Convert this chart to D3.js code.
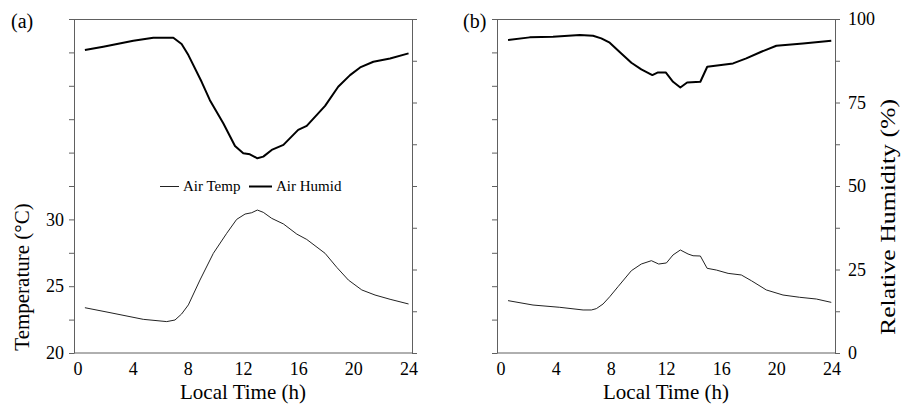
<!DOCTYPE html>
<html>
<head>
<meta charset="utf-8">
<script src="https://cdn.jsdelivr.net/npm/d3@7"></script>
<style>
body { margin: 0; background: #fff; }
svg { display: block; }
.axis path, .axis line { stroke: #606060; }
.axis text { font-size: 18px; fill: #000; }
</style>
</head>
<body>
<svg id="chart"></svg>
<script>
// values (hour of day, value)
const hoursTempA = [0.54, 2.36, 4.77, 6.47, 7.07, 7.55, 8.04, 8.88, 9.85, 10.82, 11.54, 12.15, 12.63, 13.04, 13.47, 14.08, 14.93, 15.9, 16.62, 17.95, 18.8, 19.64, 20.61, 21.57, 22.66, 24.0];
const tempA = [23.39, 23.02, 22.52, 22.35, 22.47, 22.92, 23.6, 25.46, 27.46, 28.96, 30.0, 30.4, 30.5, 30.7, 30.53, 30.08, 29.66, 28.9, 28.5, 27.46, 26.41, 25.46, 24.72, 24.34, 24.02, 23.67];

const hoursHumA = [0.54, 1.87, 4.05, 5.5, 6.95, 7.55, 8.04, 9.0, 9.6, 10.57, 11.42, 12.02, 12.5, 13.04, 13.47, 14.08, 14.93, 16.0, 16.62, 17.95, 18.9, 19.76, 20.49, 21.45, 22.66, 24.0];
const humA = [90.7, 91.7, 93.5, 94.4, 94.4, 92.5, 89.2, 81.2, 75.7, 68.8, 62.0, 59.8, 59.5, 58.3, 58.8, 60.8, 62.3, 66.8, 68.0, 74.0, 79.7, 83.2, 85.5, 87.2, 88.2, 89.7];

const hoursTempB = [0.55, 2.36, 4.3, 5.99, 6.59, 6.95, 7.44, 7.92, 8.52, 9.49, 10.21, 10.94, 11.47, 12.03, 12.51, 13.04, 13.6, 13.96, 14.49, 14.98, 15.65, 16.5, 17.46, 18.19, 19.27, 20.48, 21.69, 22.9, 23.98];
const tempB = [23.92, 23.59, 23.42, 23.22, 23.22, 23.32, 23.67, 24.21, 24.96, 26.16, 26.66, 26.91, 26.66, 26.74, 27.34, 27.71, 27.41, 27.28, 27.26, 26.34, 26.21, 25.96, 25.84, 25.41, 24.72, 24.34, 24.17, 24.04, 23.79];

const hoursHumB = [0.55, 2.12, 3.81, 5.75, 6.71, 7.31, 7.92, 8.76, 9.49, 10.21, 11.01, 11.42, 11.98, 12.51, 13.04, 13.53, 14.49, 14.99, 16.86, 17.82, 18.91, 20.0, 21.93, 23.98];
const humB = [93.7, 94.5, 94.7, 95.2, 95.0, 94.2, 92.9, 89.7, 86.9, 84.9, 83.2, 84.0, 84.0, 81.2, 79.5, 81.0, 81.2, 85.7, 86.7, 88.2, 90.2, 92.0, 92.7, 93.5];

const xTicks = [0, 4, 8, 12, 16, 20, 24];
const tempTicks = d3.range(20, 45.01, 2.5);
const tempLabels = [20, 25, 30];
const humTicks = d3.range(0, 100.01, 12.5);
const humLabels = [0, 25, 50, 75, 100];

const FONT = '"Liberation Serif", "Times New Roman", Times, serif';
const W = 901, H = 406;
const svg = d3.select('#chart').attr('width', W).attr('height', H);

function drawPanel(cfg) {
    const g = svg.append('g');
    const top = 19, bottom = 353;
    const xscale = d3.scaleLinear().domain([-0.25, 24.25]).range([cfg.left, cfg.right]);
    const tscale = d3.scaleLinear().domain([20, 45]).range([bottom, top]);
    const hscale = d3.scaleLinear().domain([0, 100]).range([bottom, top]);

    // x axis: labels only, no tick marks
    g.append('g').attr('class', 'axis')
        .attr('transform', `translate(0, ${bottom})`)
        .call(d3.axisBottom(xscale).tickValues(xTicks).tickSize(0).tickPadding(9).tickSizeOuter(0))
        .call(a => a.select('.domain').attr('d', `M${cfg.left},0H${cfg.right}`));

    const yl = d3.axisLeft(tscale).tickValues(tempTicks).tickSize(5).tickPadding(5).tickSizeOuter(0)
        .tickFormat(d => cfg.leftLabels && tempLabels.includes(d) ? d : '');
    g.append('g').attr('class', 'axis')
        .attr('transform', `translate(${cfg.left}, 0)`)
        .call(yl);

    const yr = d3.axisRight(hscale).tickValues(humTicks).tickSize(5).tickPadding(8).tickSizeOuter(0)
        .tickFormat(d => cfg.rightLabels && humLabels.includes(d) ? d : '');
    g.append('g').attr('class', 'axis')
        .attr('transform', `translate(${cfg.right}, 0)`)
        .call(yr);

    // top frame line
    g.append('line')
        .attr('x1', cfg.left).attr('x2', cfg.right)
        .attr('y1', top + 0.5).attr('y2', top + 0.5)
        .attr('stroke', '#606060');

    const tempLine = d3.line()
        .x((d, i) => xscale(cfg.tHours[i]))
        .y(d => tscale(d));
    const humLine = d3.line()
        .x((d, i) => xscale(cfg.hHours[i]))
        .y(d => hscale(d));

    g.append('path').datum(cfg.temp)
        .attr('d', tempLine)
        .attr('fill', 'none').attr('stroke', '#222').attr('stroke-width', 1);
    g.append('path').datum(cfg.hum)
        .attr('d', humLine)
        .attr('fill', 'none').attr('stroke', '#000').attr('stroke-width', 2)
        .attr('stroke-linejoin', 'round');

    g.append('text')
        .attr('x', cfg.labelX).attr('y', 28)
        .style('font-size', '20px')
        .text(cfg.label);

    g.append('text')
        .attr('x', (cfg.left + cfg.right) / 2).attr('y', 399)
        .attr('text-anchor', 'middle')
        .style('font-size', '21px')
        .text('Local Time (h)');
}

drawPanel({left: 74, right: 412, tHours: hoursTempA, temp: tempA, hHours: hoursHumA, hum: humA,
    leftLabels: true, rightLabels: false, label: '(a)', labelX: 11});
drawPanel({left: 497, right: 835, tHours: hoursTempB, temp: tempB, hHours: hoursHumB, hum: humB,
    leftLabels: false, rightLabels: true, label: '(b)', labelX: 463});

// y axis titles
svg.append('text')
    .attr('transform', 'translate(29, 277) rotate(-90)')
    .attr('text-anchor', 'middle')
    .style('font-size', '21px')
    .text('Temperature (°C)');
svg.append('text')
    .attr('transform', 'translate(895, 217) rotate(-90)')
    .attr('text-anchor', 'middle')
    .attr('textLength', 236)
    .attr('lengthAdjust', 'spacingAndGlyphs')
    .style('font-size', '21px')
    .text('Relative Humidity (%)');

// legend
const legend = svg.append('g').style('font-size', '15px');
legend.append('line').attr('x1', 160).attr('x2', 179).attr('y1', 186.5).attr('y2', 186.5)
    .attr('stroke', '#222').attr('stroke-width', 1);
legend.append('text').attr('x', 183).attr('y', 191).text('Air Temp');
legend.append('line').attr('x1', 249).attr('x2', 272).attr('y1', 186.5).attr('y2', 186.5)
    .attr('stroke', '#000').attr('stroke-width', 2);
legend.append('text').attr('x', 276).attr('y', 191).text('Air Humid');

svg.selectAll('text').style('font-family', FONT).style('fill', '#000');
</script>
</body>
</html>
